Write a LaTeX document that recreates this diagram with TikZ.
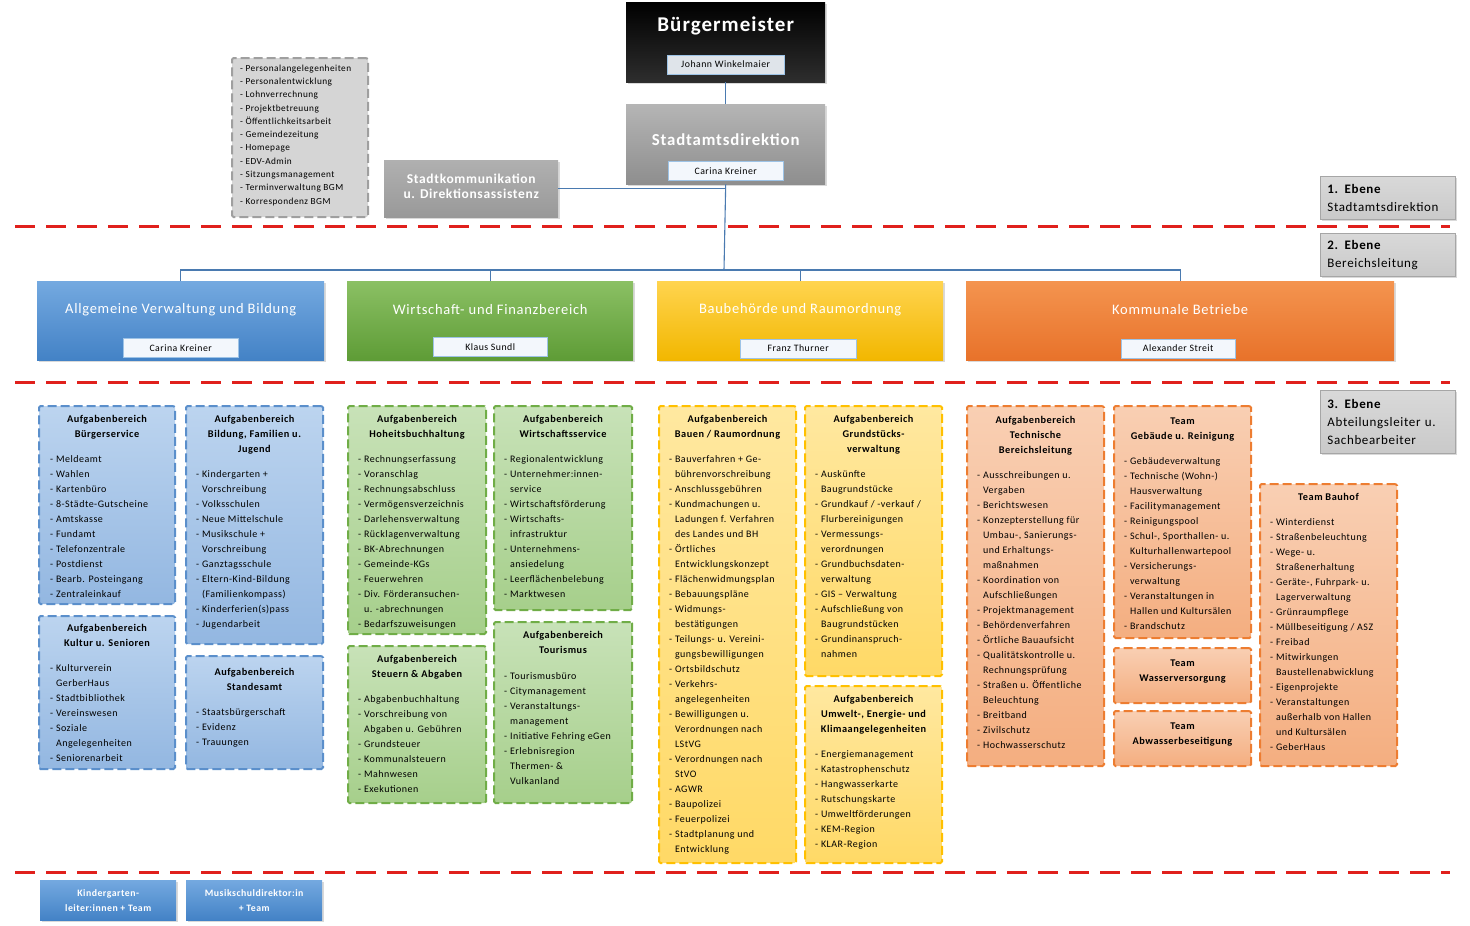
\documentclass[tikz,border=0pt]{standalone}
\usepackage{fontspec}
\setmainfont{Carlito}[LetterSpace=5]
\usepackage{tikz}
\usetikzlibrary{positioning,shadows}

\definecolor{lineblue}{HTML}{4A7AB0}
\definecolor{redl}{HTML}{E0201C}
\definecolor{namefill}{HTML}{F3F7FC}
\definecolor{nameline}{HTML}{9DC3E6}
\definecolor{namegray}{HTML}{DFE4EA}
\definecolor{graya}{HTML}{B5B5B5}
\definecolor{grayb}{HTML}{8E8E8E}
\definecolor{blA}{HTML}{74A9E0}
\definecolor{blB}{HTML}{4382C6}
\definecolor{grA}{HTML}{8BC064}
\definecolor{grB}{HTML}{5E9C36}
\definecolor{yeA}{HTML}{FFD44F}
\definecolor{yeB}{HTML}{F2B700}
\definecolor{orA}{HTML}{F4944F}
\definecolor{orB}{HTML}{E8722A}
\definecolor{tbA}{HTML}{BCD4EF}
\definecolor{tbB}{HTML}{93B7E1}
\definecolor{tbD}{HTML}{5B8FCB}
\definecolor{tgA}{HTML}{C8E2B8}
\definecolor{tgB}{HTML}{A6CF8B}
\definecolor{tgD}{HTML}{70AD47}
\definecolor{tyA}{HTML}{FFE8A0}
\definecolor{tyB}{HTML}{FFD966}
\definecolor{tyD}{HTML}{FFC000}
\definecolor{toA}{HTML}{F9CFB3}
\definecolor{toB}{HTML}{F4AE80}
\definecolor{toD}{HTML}{ED7D31}

\newcommand\einr{\phantom{- }}

\tikzset{
  conn/.style={draw=lineblue, line width=1.1pt},
  redline/.style={draw=redl, line width=3pt, dash pattern=on 20pt off 11pt},
  shade/.style={drop shadow={opacity=.3, shadow xshift=2pt, shadow yshift=-2pt}},
  chief/.style={anchor=north west, inner sep=0, minimum width=199, minimum height=80, shade},
  bereich/.style={anchor=north west, inner sep=0, minimum height=79, shade},
  title/.style={text=white, inner sep=0},
  btitle/.style={title, font=\fontsize{14.5}{16}\selectfont},
  namebox/.style={draw=nameline, fill=namefill, line width=.8pt, inner sep=0,
    minimum height=19, font=\fontsize{9.8}{11}\selectfont},
  task/.style={anchor=north west, inner sep=0, line width=2pt,
    dash pattern=on 9pt off 4pt, rounded corners=1.5pt},
  tblue/.style={task, draw=tbD, top color=tbA, bottom color=tbB},
  tgreen/.style={task, draw=tgD, top color=tgA, bottom color=tgB},
  tyellow/.style={task, draw=tyD, top color=tyA, bottom color=tyB},
  torange/.style={task, draw=toD, top color=toA, bottom color=toB},
  head/.style={anchor=north, align=center, inner sep=0, font=\fontsize{10.3}{15}\selectfont\bfseries},
  items/.style={anchor=north west, align=left, inner sep=0, font=\fontsize{10}{15}\selectfont},
  ebene/.style={anchor=north west, align=left, text width=121, inner xsep=7, inner ysep=0,
    top color=gray!30, bottom color=gray!42, draw=gray!70, line width=.8pt, shade,
    font=\fontsize{13}{18}\selectfont},
  teamblue/.style={anchor=north west, inner sep=0, minimum width=136, minimum height=40,
    top color=blA, bottom color=blB, shade, text=white, align=center,
    font=\fontsize{9.8}{15}\selectfont\bfseries}
}

\begin{document}
\begin{tikzpicture}[x=1pt, y=-1pt]
\useasboundingbox (0,0) rectangle (1470,926);

% Trennlinien
\draw[redline] (15,226) -- (1450,226);
\draw[redline] (15,382) -- (1450,382);
\draw[redline] (15,872) -- (1450,872);

% Ebenen
\node[ebene, minimum height=43] (eb1) at (1320,176) {\textbf{1. Ebene}\\Stadtamtsdirektion};
\node[ebene, minimum height=43] (eb2) at (1320,233) {\textbf{2. Ebene}\\Bereichsleitung};
\node[ebene, minimum height=63] (eb3) at (1320,390) {\textbf{3. Ebene}\\Abteilungsleiter u.\\Sachbearbeiter};

% 1. Ebene
\node[chief, top color=black, bottom color=black!82!white] (bgm) at (626,2) {};
\node[title, font=\fontsize{21}{24}\selectfont\bfseries] (bgm-t) at ([yshift=-24]bgm.north) {Bürgermeister};
\node[namebox, fill=namegray, minimum width=117] (bgm-n) at ([yshift=18]bgm.south) {Johann Winkelmaier};

\node[chief, top color=graya, bottom color=grayb] (sad) at (626,104) {};
\node[title, font=\fontsize{16.8}{19}\selectfont\bfseries] (sad-t) at ([yshift=-36]sad.north) {Stadtamtsdirektion};
\node[namebox, minimum width=115] (sad-n) at ([yshift=13.5]sad.south) {Carina Kreiner};

\node[chief, minimum width=174, minimum height=57, top color=gray!62, bottom color=gray!80] (sko) at (384,160) {};
\node[title, align=center, font=\fontsize{13.5}{15}\selectfont\bfseries] (sko-t) at ([yshift=-26]sko.north)
  {Stadtkommunikation\\u. Direktionsassistenz};

\node[anchor=north west, inner sep=0, minimum width=136, minimum height=159, fill=gray!33,
  draw=gray!75, line width=2pt, dash pattern=on 9pt off 4pt, rounded corners=1.5pt] (aufg) at (231,57) {};
\node[items, font=\fontsize{9.3}{13.3}\selectfont] (aufg-i) at ([xshift=9,yshift=-7.5]aufg.north west)
  {- Personalangelegenheiten\\- Personalentwicklung\\- Lohnverrechnung\\- Projektbetreuung\\- Öffentlichkeitsarbeit\\- Gemeindezeitung\\- Homepage\\- EDV-Admin\\- Sitzungsmanagement\\- Terminverwaltung BGM\\- Korrespondenz BGM};

% 2. Ebene
\node[bereich, minimum width=287, top color=blA, bottom color=blB] (avb) at (37,281) {};
\node[btitle] (avb-t) at ([yshift=-29]avb.north) {Allgemeine Verwaltung und Bildung};
\node[namebox, minimum width=115] (avb-n) at ([yshift=12.5]avb.south) {Carina Kreiner};

\node[bereich, minimum width=286, top color=grA, bottom color=grB] (wfb) at (347,281) {};
\node[btitle] (wfb-t) at ([yshift=-29]wfb.north) {Wirtschaft- und Finanzbereich};
\node[namebox, minimum width=114] (wfb-n) at ([yshift=13.5]wfb.south) {Klaus Sundl};

\node[bereich, minimum width=286, top color=yeA, bottom color=yeB] (bro) at (657,281) {};
\node[btitle] (bro-t) at ([yshift=-29]bro.north) {Baubehörde und Raumordnung};
\node[namebox, minimum width=116] (bro-n) at ([xshift=-2,yshift=12]bro.south) {Franz Thurner};

\node[bereich, minimum width=428, top color=orA, bottom color=orB] (kbt) at (966,281) {};
\node[btitle] (kbt-t) at ([yshift=-29]kbt.north) {Kommunale Betriebe};
\node[namebox, minimum width=114] (kbt-n) at ([xshift=-2,yshift=12]kbt.south) {Alexander Streit};

% Verbindungen
\coordinate (bar) at (724,270);
\draw[conn] (bgm.south) -- (sad.north);
\draw[conn] (sko.east) -- (sko.east -| sad.south);
\draw[conn] (sad.south) -- (bar);
\draw[conn] (avb.north) |- (bar) -| (kbt.north);
\draw[conn] (wfb.north) -- (wfb.north |- bar);
\draw[conn] (bro.north) -- (bro.north |- bar);

% 3. Ebene - Allgemeine Verwaltung und Bildung
\node[tblue, minimum width=136, minimum height=198] (bsvc) at (38,405) {};
\node[head] (bsvc-h) at ([yshift=-10.5]bsvc.north) {Aufgabenbereich\\Bürgerservice};
\node[items] (bsvc-i) at ([xshift=12,yshift=-50.5]bsvc.north west)
  {- Meldeamt\\- Wahlen\\- Kartenbüro\\- 8-Städte-Gutscheine\\- Amtskasse\\- Fundamt\\- Telefonzentrale\\- Postdienst\\- Bearb. Posteingang\\- Zentraleinkauf};

\node[tblue, minimum width=137, minimum height=238] (bbfj) at (185,405) {};
\node[head] (bbfj-h) at ([yshift=-10.5]bbfj.north) {Aufgabenbereich\\Bildung, Familien u.\\Jugend};
\node[items] (bbfj-i) at ([xshift=11,yshift=-65.5]bbfj.north west)
  {- Kindergarten +\\\einr Vorschreibung\\- Volksschulen\\- Neue Mittelschule\\- Musikschule +\\\einr Vorschreibung\\- Ganztagsschule\\- Eltern-Kind-Bildung\\\einr (Familienkompass)\\- Kinderferien(s)pass\\- Jugendarbeit};

\node[tblue, minimum width=136, minimum height=153] (bkus) at (38,615) {};
\node[head] (bkus-h) at ([yshift=-9.5]bkus.north) {Aufgabenbereich\\Kultur u. Senioren};
\node[items] (bkus-i) at ([xshift=12,yshift=-49.5]bkus.north west)
  {- Kulturverein\\\einr GerberHaus\\- Stadtbibliothek\\- Vereinswesen\\- Soziale\\\einr Angelegenheiten\\- Seniorenarbeit};

\node[tblue, minimum width=137, minimum height=113] (bsta) at (185,655) {};
\node[head] (bsta-h) at ([yshift=-13.5]bsta.north) {Aufgabenbereich\\Standesamt};
\node[items] (bsta-i) at ([xshift=11,yshift=-53.5]bsta.north west)
  {- Staatsbürgerschaft\\- Evidenz\\- Trauungen};

% 3. Ebene - Wirtschaft- und Finanzbereich
\node[tgreen, minimum width=138, minimum height=228] (ghbh) at (347,405) {};
\node[head] (ghbh-h) at ([yshift=-10.5]ghbh.north) {Aufgabenbereich\\Hoheitsbuchhaltung};
\node[items] (ghbh-i) at ([xshift=11,yshift=-50.5]ghbh.north west)
  {- Rechnungserfassung\\- Voranschlag\\- Rechnungsabschluss\\- Vermögensverzeichnis\\- Darlehensverwaltung\\- Rücklagenverwaltung\\- BK-Abrechnungen\\- Gemeinde-KGs\\- Feuerwehren\\- Div. Förderansuchen-\\\einr u. -abrechnungen\\- Bedarfszuweisungen};

\node[tgreen, minimum width=138, minimum height=204] (gwis) at (493,405) {};
\node[head] (gwis-h) at ([yshift=-10.5]gwis.north) {Aufgabenbereich\\Wirtschaftsservice};
\node[items] (gwis-i) at ([xshift=11,yshift=-50.5]gwis.north west)
  {- Regionalentwicklung\\- Unternehmer:innen-\\\einr service\\- Wirtschaftsförderung\\- Wirtschafts-\\\einr infrastruktur\\- Unternehmens-\\\einr ansiedelung\\- Leerflächenbelebung\\- Marktwesen};

\node[tgreen, minimum width=138, minimum height=157] (gsta) at (347,645) {};
\node[head] (gsta-h) at ([yshift=-10.5]gsta.north) {Aufgabenbereich\\Steuern \& Abgaben};
\node[items] (gsta-i) at ([xshift=11,yshift=-50.5]gsta.north west)
  {- Abgabenbuchhaltung\\- Vorschreibung von\\\einr Abgaben u. Gebühren\\- Grundsteuer\\- Kommunalsteuern\\- Mahnwesen\\- Exekutionen};

\node[tgreen, minimum width=138, minimum height=181] (gtou) at (493,621) {};
\node[head] (gtou-h) at ([yshift=-10.5]gtou.north) {Aufgabenbereich\\Tourismus};
\node[items] (gtou-i) at ([xshift=11,yshift=-51.5]gtou.north west)
  {- Tourismusbüro\\- Citymanagement\\- Veranstaltungs-\\\einr management\\- Initiative Fehring eGen\\- Erlebnisregion\\\einr Thermen- \&\\\einr Vulkanland};

% 3. Ebene - Baubehoerde und Raumordnung
\node[tyellow, minimum width=137, minimum height=457] (ybau) at (658,405) {};
\node[head] (ybau-h) at ([yshift=-10.5]ybau.north) {Aufgabenbereich\\Bauen / Raumordnung};
\node[items] (ybau-i) at ([xshift=11,yshift=-50.5]ybau.north west)
  {- Bauverfahren + Ge-\\\einr bührenvorschreibung\\- Anschlussgebühren\\- Kundmachungen u.\\\einr Ladungen f. Verfahren\\\einr des Landes und BH\\- Örtliches\\\einr Entwicklungskonzept\\- Flächenwidmungsplan\\- Bebauungspläne\\- Widmungs-\\\einr bestätigungen\\- Teilungs- u. Vereini-\\\einr gungsbewilligungen\\- Ortsbildschutz\\- Verkehrs-\\\einr angelegenheiten\\- Bewilligungen u.\\\einr Verordnungen nach\\\einr LStVG\\- Verordnungen nach\\\einr StVO\\- AGWR\\- Baupolizei\\- Feuerpolizei\\- Stadtplanung und\\\einr Entwicklung};

\node[tyellow, minimum width=137, minimum height=270] (ygru) at (804,405) {};
\node[head] (ygru-h) at ([yshift=-10.5]ygru.north) {Aufgabenbereich\\Grundstücks-\\verwaltung};
\node[items] (ygru-i) at ([xshift=11,yshift=-65.5]ygru.north west)
  {- Auskünfte\\\einr Baugrundstücke\\- Grundkauf / -verkauf /\\\einr Flurbereinigungen\\- Vermessungs-\\\einr verordnungen\\- Grundbuchsdaten-\\\einr verwaltung\\- GIS – Verwaltung\\- Aufschließung von\\\einr Baugrundstücken\\- Grundinanspruch-\\\einr nahmen};

\node[tyellow, minimum width=137, minimum height=177] (yumw) at (804,685) {};
\node[head] (yumw-h) at ([yshift=-10.5]yumw.north) {Aufgabenbereich\\Umwelt-, Energie- und\\Klimaangelegenheiten};
\node[items] (yumw-i) at ([xshift=11,yshift=-65.5]yumw.north west)
  {- Energiemanagement\\- Katastrophenschutz\\- Hangwasserkarte\\- Rutschungskarte\\- Umweltförderungen\\- KEM-Region\\- KLAR-Region};

% 3. Ebene - Kommunale Betriebe
\node[torange, minimum width=137, minimum height=360] (otbl) at (966,405) {};
\node[head] (otbl-h) at ([yshift=-11.5]otbl.north) {Aufgabenbereich\\Technische\\Bereichsleitung};
\node[items] (otbl-i) at ([xshift=11,yshift=-66.5]otbl.north west)
  {- Ausschreibungen u.\\\einr Vergaben\\- Berichtswesen\\- Konzepterstellung für\\\einr Umbau-, Sanierungs-\\\einr und Erhaltungs-\\\einr maßnahmen\\- Koordination von\\\einr Aufschließungen\\- Projektmanagement\\- Behördenverfahren\\- Örtliche Bauaufsicht\\- Qualitätskontrolle u.\\\einr Rechnungsprüfung\\- Straßen u. Öffentliche\\\einr Beleuchtung\\- Breitband\\- Zivilschutz\\- Hochwasserschutz};

\node[torange, minimum width=137, minimum height=232] (ogeb) at (1113,405) {};
\node[head] (ogeb-h) at ([yshift=-12.5]ogeb.north) {Team\\Gebäude u. Reinigung};
\node[items] (ogeb-i) at ([xshift=11,yshift=-52.5]ogeb.north west)
  {- Gebäudeverwaltung\\- Technische (Wohn-)\\\einr Hausverwaltung\\- Facilitymanagement\\- Reinigungspool\\- Schul-, Sporthallen- u.\\\einr Kulturhallenwartepool\\- Versicherungs-\\\einr verwaltung\\- Veranstaltungen in\\\einr Hallen und Kultursälen\\- Brandschutz};

\node[torange, minimum width=137, minimum height=55] (owas) at (1113,647) {};
\node[head] (owas-h) at ([yshift=-12.5]owas.north) {Team\\Wasserversorgung};

\node[torange, minimum width=137, minimum height=55] (oabw) at (1113,710) {};
\node[head] (oabw-h) at ([yshift=-12.5]oabw.north) {Team\\Abwasserbeseitigung};

\node[torange, minimum width=137, minimum height=282] (obau) at (1259,483) {};
\node[head] (obau-h) at ([yshift=-10.5]obau.north) {Team Bauhof};
\node[items] (obau-i) at ([xshift=11,yshift=-35.5]obau.north west)
  {- Winterdienst\\- Straßenbeleuchtung\\- Wege- u.\\\einr Straßenerhaltung\\- Geräte-, Fuhrpark- u.\\\einr Lagerverwaltung\\- Grünraumpflege\\- Müllbeseitigung / ASZ\\- Freibad\\- Mitwirkungen\\\einr Baustellenabwicklung\\- Eigenprojekte\\- Veranstaltungen\\\einr außerhalb von Hallen\\\einr und Kultursälen\\- GeberHaus};

% unter der Linie
\node[teamblue] (kiga) at (40,880) {Kindergarten-\\leiter:innen + Team};
\node[teamblue] (msch) at (186,880) {Musikschuldirektor:in\\+ Team};
\end{tikzpicture}
\end{document}
